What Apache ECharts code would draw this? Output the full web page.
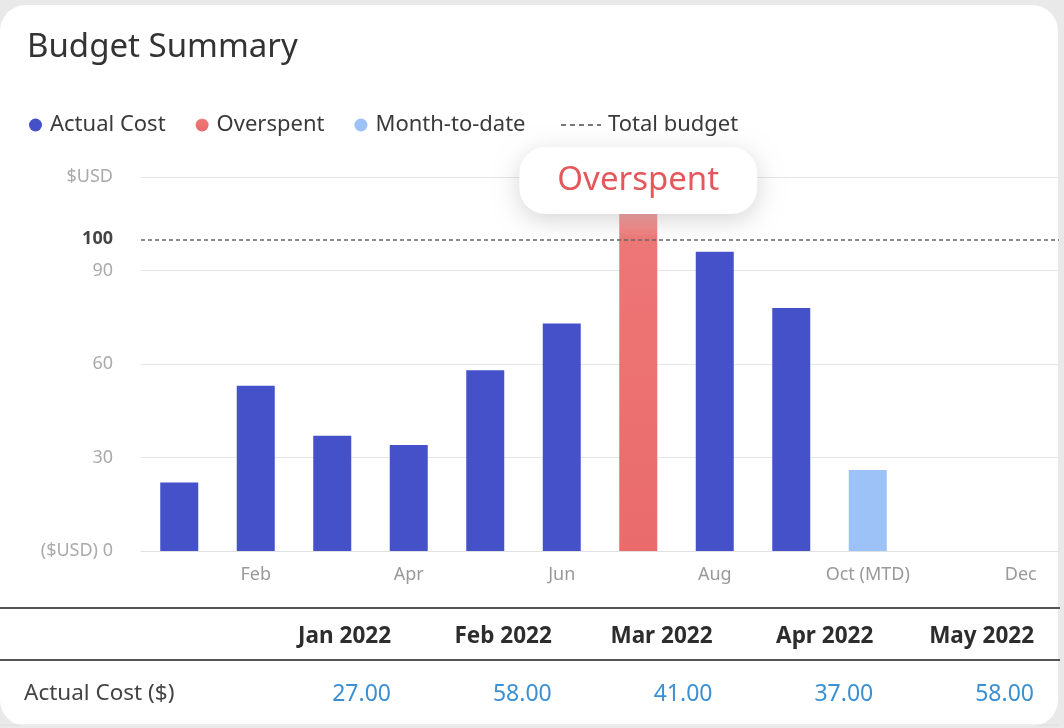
<!DOCTYPE html>
<html>
<head>
<meta charset="utf-8">
<title>Budget Summary</title>
<script src="https://cdn.jsdelivr.net/npm/echarts@6/dist/echarts.min.js"></script>
<style>
    html, body {
        margin: 0;
        padding: 0;
        background: #e9e9e9;
        width: 1064px;
        height: 728px;
        overflow: hidden;
    }
    .card {
        position: absolute;
        left: 0;
        top: 5px;
        width: 1058px;
        height: 721px;
        background: #fff;
        border-radius: 26px;
    }
    #budget {
        position: absolute;
        left: 0;
        top: 0;
        width: 1064px;
        height: 728px;
    }
</style>
</head>
<body>
<div class="card"></div>
<div id="budget"></div>
<script>
    // chart data
    const months = ['Jan', 'Feb', 'Mar', 'Apr', 'May', 'Jun', 'Jul', 'Aug', 'Sep', 'Oct (MTD)', 'Nov', 'Dec'];
    const actualCost = [22, 53, 37, 34, 58, 73, '-', 96, 78, '-', '-', '-'];
    const overspent = ['-', '-', '-', '-', '-', '-', 111, '-', '-', '-', '-', '-'];
    const monthToDate = ['-', '-', '-', '-', '-', '-', '-', '-', '-', 26, '-', '-'];
    const totalBudget = 100;

    // table under the chart
    const tableMonths = ['Jan 2022', 'Feb 2022', 'Mar 2022', 'Apr 2022', 'May 2022'];
    const tableCosts = ['27.00', '58.00', '41.00', '37.00', '58.00'];

    const font = '"Noto Sans", "Open Sans", sans-serif';
    let myChart = echarts.init(document.getElementById('budget'));

    let tableGraphics = [
        {type: 'line', shape: {x1: 0, y1: 608, x2: 1060, y2: 608}, style: {stroke: '#555', lineWidth: 2}},
        {type: 'line', shape: {x1: 0, y1: 660, x2: 1060, y2: 660}, style: {stroke: '#555', lineWidth: 2}},
        {type: 'line', shape: {x1: 0, y1: 725, x2: 1058, y2: 725}, style: {stroke: '#dcdcdc', lineWidth: 1}},
        {
            type: 'text', x: 24, y: 694,
            style: {text: 'Actual Cost ($)', font: '22.5px ' + font, fill: '#444', verticalAlign: 'middle'}
        }
    ];
    tableMonths.forEach((m, i) => {
        let right = 391 + i * 160.75;
        tableGraphics.push({
            type: 'text', x: right, y: 637,
            style: {text: m, font: 'bold 22.5px ' + font, fill: '#2d2d2d', align: 'right', verticalAlign: 'middle'}
        });
        tableGraphics.push({
            type: 'text', x: right, y: 694,
            style: {text: tableCosts[i], font: '23px ' + font, fill: '#3b8fd3', align: 'right', verticalAlign: 'middle'}
        });
    });

    let option = {
        textStyle: {fontFamily: font},
        title: {
            left: 22,
            top: 26,
            text: 'Budget Summary',
            textStyle: {fontSize: 33, fontWeight: 'normal', color: '#333', fontFamily: font}
        },
        legend: [{
            left: 24,
            top: 109,
            icon: 'circle',
            itemWidth: 13,
            itemHeight: 13,
            itemGap: 30,
            textStyle: {fontSize: 22, color: '#3a3a3a', padding: [0, 0, 0, 3]},
            data: ['Actual Cost', 'Overspent', 'Month-to-date']
        }, {
            left: 556,
            top: 109,
            itemWidth: 40,
            itemHeight: 2,
            textStyle: {fontSize: 22, color: '#3a3a3a', padding: [0, 0, 0, 2]},
            data: [{
                name: 'Total budget',
                icon: 'path://M0,0h5v2h-5z M9,0h5v2h-5z M18,0h5v2h-5z M27,0h5v2h-5z M36,0h4v2h-4z'
            }]
        }],
        grid: {left: 141, right: 5, top: 177, bottom: 177},
        xAxis: {
            type: 'category',
            data: months,
            axisTick: {show: false},
            axisLine: {lineStyle: {color: '#e0e0e0'}},
            axisLabel: {
                interval: (i) => i % 2 === 1,
                color: '#999',
                fontSize: 18,
                margin: 15
            }
        },
        yAxis: {
            type: 'value',
            min: 0,
            max: 120,
            interval: 30,
            axisLine: {show: false},
            axisTick: {show: false},
            splitLine: {lineStyle: {color: '#e6e6e6'}},
            axisLabel: {
                margin: 28,
                color: '#aaa',
                fontSize: 18,
                formatter: (v) => v === 0 ? '($USD) 0' : (v === 120 ? '$USD' : v)
            }
        },
        series: [
            {
                name: 'Actual Cost',
                type: 'bar',
                barWidth: 38,
                barGap: '-100%',
                itemStyle: {color: '#4451c9'},
                data: actualCost
            },
            {
                name: 'Overspent',
                type: 'bar',
                barWidth: 38,
                barGap: '-100%',
                itemStyle: {
                    color: new echarts.graphic.LinearGradient(0, 0, 0, 1, [
                        {offset: 0, color: '#f6b5b5'},
                        {offset: 0.1, color: '#ee7676'},
                        {offset: 1, color: '#ea6b6b'}
                    ])
                },
                label: {
                    show: true,
                    position: 'top',
                    distance: -9,
                    formatter: 'Overspent',
                    fontSize: 33,
                    color: '#e4575b',
                    backgroundColor: '#fff',
                    borderRadius: 26,
                    padding: [17, 38],
                    shadowColor: 'rgba(0, 0, 0, 0.16)',
                    shadowBlur: 24,
                    shadowOffsetY: 6
                },
                data: overspent
            },
            {
                name: 'Month-to-date',
                type: 'bar',
                barWidth: 38,
                barGap: '-100%',
                itemStyle: {color: '#9dc2f7'},
                data: monthToDate
            },
            {
                name: 'Total budget',
                type: 'line',
                itemStyle: {color: '#777'},
                data: [],
                markLine: {
                    silent: true,
                    symbol: 'none',
                    lineStyle: {type: [4, 3], color: '#666', width: 1.5},
                    label: {
                        position: 'start',
                        distance: 28,
                        formatter: '100',
                        fontWeight: 'bold',
                        fontSize: 18,
                        color: '#444'
                    },
                    data: [{yAxis: totalBudget}]
                }
            }
        ],
        graphic: tableGraphics
    };

    myChart.setOption(option);
</script>
</body>
</html>
